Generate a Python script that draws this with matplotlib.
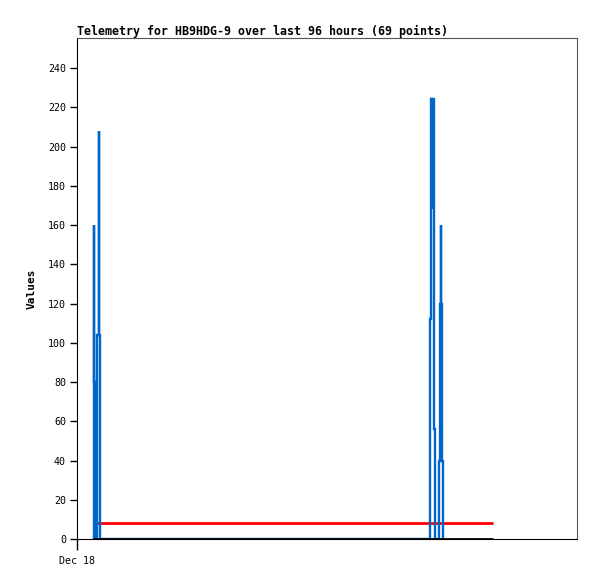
import matplotlib
matplotlib.use("Agg")
import matplotlib.pyplot as plt

# hours since Dec 18 00:00 and telemetry values
blue_t = [3.96, 3.96, 3.96, 4.2, 4.2, 4.85, 4.85, 5.2, 5.2, 5.2, 5.47, 5.47,
          84.6, 84.6, 84.84, 84.84, 85.2, 85.2, 85.2, 85.56, 85.56, 85.8, 85.8,
          86.88, 86.88, 87.12, 87.12, 87.36, 87.36, 87.36, 87.6, 87.6, 87.84, 87.84]
blue_v = [0, 160, 80, 80, 0, 0, 104, 104, 208, 104, 104, 0,
          0, 112, 112, 224, 224, 168, 224, 224, 56, 56, 0,
          0, 40, 40, 120, 120, 160, 120, 120, 40, 40, 0]

red_t = [3.84, 99.84]
red_v = [8, 8]
black_t = [3.84, 99.84]
black_v = [0, 0]

y_ticks = list(range(0, 241, 20))
x_tick_pos = [0]
x_tick_labels = ["Dec 18"]

mono = "DejaVu Sans Mono"

fig = plt.figure(figsize=(5.97, 5.79), dpi=100)
ax = fig.add_axes([77 / 597, 1 - 539 / 579, 500 / 597, 501 / 579])

ax.plot(red_t, red_v, color="#ff0000", lw=2, solid_capstyle="butt", zorder=2)
ax.plot(blue_t, blue_v, color="#0066cc", lw=1.7, solid_capstyle="butt",
        solid_joinstyle="miter", zorder=3)
ax.plot(black_t, black_v, color="#000000", lw=2, solid_capstyle="butt", zorder=4)

ax.set_xlim(0, 120)
ax.set_ylim(0, 255.3)
ax.set_yticks(y_ticks)
ax.set_yticklabels([str(v) for v in y_ticks], fontfamily=mono, fontsize=7.2)
ax.set_xticks(x_tick_pos)
ax.set_xticklabels(x_tick_labels, fontfamily=mono, fontsize=7.2)
ax.tick_params(axis="y", direction="out", length=5, width=1, pad=3)
ax.tick_params(axis="x", direction="out", length=8, width=1, pad=4)

ax.spines["left"].set_color("black")
ax.spines["bottom"].set_color("black")
ax.spines["top"].set_color("#555555")
ax.spines["right"].set_color("#555555")

ax.set_ylabel("Values", fontfamily=mono, fontweight="bold", fontsize=8, labelpad=8)
fig.text(77 / 597, 1 - 31 / 579, "Telemetry for HB9HDG-9 over last 96 hours (69 points)",
         fontfamily=mono, fontweight="bold", fontsize=8.35, ha="left", va="center")

fig.savefig("out.png", dpi=100)
